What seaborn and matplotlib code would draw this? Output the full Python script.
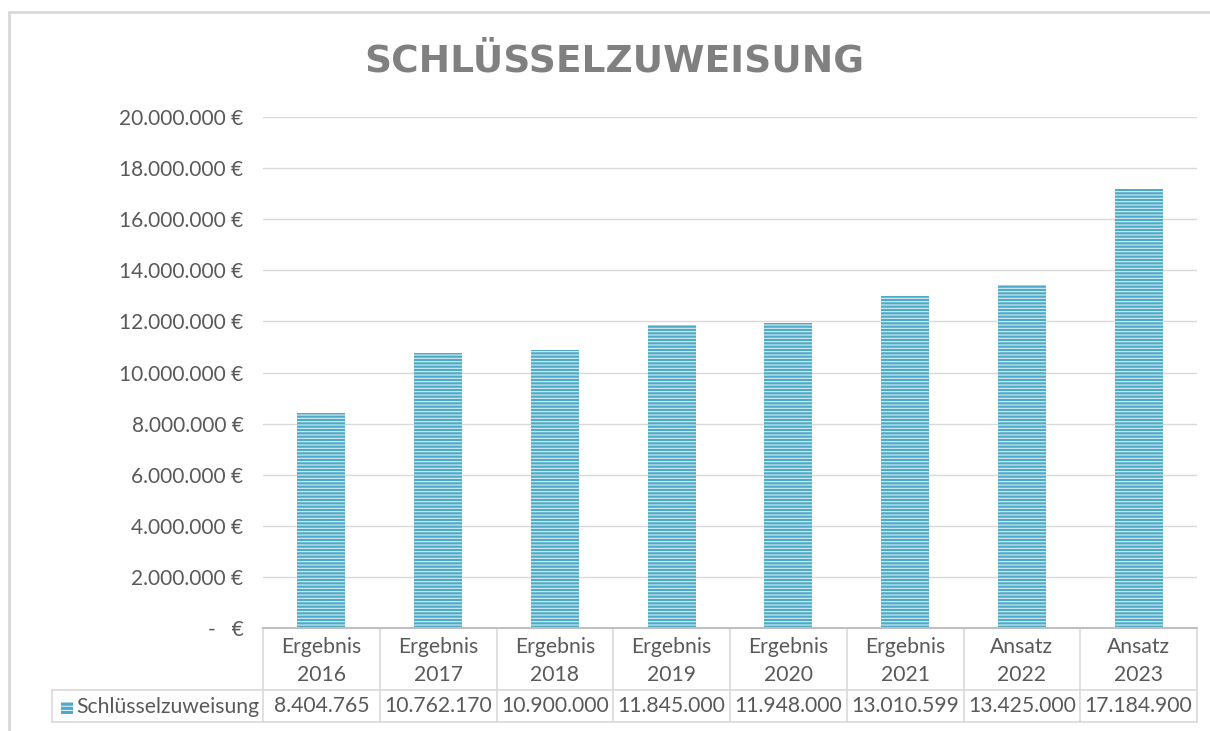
import numpy as np
import pandas as pd
import seaborn as sns
import matplotlib.pyplot as plt
from matplotlib.lines import Line2D
from matplotlib.patches import Rectangle
import matplotlib.transforms as mtransforms

categories = ['Ergebnis\n2016', 'Ergebnis\n2017', 'Ergebnis\n2018', 'Ergebnis\n2019',
              'Ergebnis\n2020', 'Ergebnis\n2021', 'Ansatz\n2022', 'Ansatz\n2023']
values = [8404765, 10762170, 10900000, 11845000, 11948000, 13010599, 13425000, 17184900]
series_name = 'Schlüsselzuweisung'
title = 'SCHLÜSSELZUWEISUNG'
yticks = list(range(0, 20000001, 2000000))

bar_color = '#4eaac6'
stripe_color = '#d8eef5'
grid_color = '#d9d9d9'
text_color = '#595959'

df = pd.DataFrame({'kategorie': categories, 'wert': values})


def euro(v):
    if v == 0:
        return '-   €'
    return f'{v:,.0f}'.replace(',', '.') + ' €'


sns.set_style('white')
plt.rcParams['font.family'] = ['Lato', 'DejaVu Sans']
plt.rcParams['hatch.linewidth'] = 0.8

fig = plt.figure(figsize=(12.1, 7.31), dpi=100)
ax = fig.add_axes([263 / 1210, 1 - 628 / 731, 934 / 1210, 511 / 731])

sns.barplot(data=df, x='kategorie', y='wert', color=bar_color, width=0.41,
            saturation=1, ax=ax)
for p in ax.patches:
    p.set_hatch('-----')
    p.set_edgecolor(stripe_color)
    p.set_linewidth(0)

ax.set_ylim(0, 20000000)
ax.set_xlim(-0.5, len(categories) - 0.5)
ax.set_yticks(yticks)
ax.set_yticklabels([euro(v) for v in yticks], fontsize=15, color=text_color)
ax.tick_params(axis='y', length=0, pad=14)
ax.set_xticks([])
ax.set_xlabel('')
ax.set_ylabel('')
ax.yaxis.grid(True, color=grid_color, linewidth=1)
ax.set_axisbelow(True)
for s in ax.spines.values():
    s.set_visible(False)

# data table below the plot
h1 = -62 / 511
h2 = -94 / 511
left = (52 - 263) / 934
tr = mtransforms.blended_transform_factory(ax.transData, ax.transAxes)
n = len(categories)
for i, (c, v) in enumerate(zip(categories, values)):
    ax.text(i, h1 / 2 - 0.004, c, transform=tr, ha='center', va='center', fontsize=15.2,
            color=text_color, linespacing=1.5)
    ax.text(i, (h1 + h2) / 2, f'{v:,.0f}'.replace(',', '.'), transform=tr,
            ha='center', va='center', fontsize=15.2, color=text_color)
for k in range(n + 1):
    ax.add_line(Line2D([k - 0.5, k - 0.5], [0, h2], transform=tr, color=grid_color,
                       linewidth=1.2, clip_on=False))
for y in (h1, h2):
    ax.add_line(Line2D([left, 1], [y, y], transform=ax.transAxes, color=grid_color,
                       linewidth=1.2, clip_on=False))
ax.add_line(Line2D([left, left], [h1, h2], transform=ax.transAxes, color=grid_color,
                   linewidth=1.2, clip_on=False))
ax.add_line(Line2D([0, 1], [0, 0], transform=ax.transAxes, color='#bfbfbf',
                   linewidth=1.5, clip_on=False))

# legend key inside the table
key = Rectangle((61 / 1210, 1 - 714 / 731), 12 / 1210, 12 / 731, transform=fig.transFigure,
                facecolor=bar_color, edgecolor=stripe_color, hatch='----', linewidth=0)
fig.patches.append(key)
fig.text(76 / 1210, 1 - 707 / 731, series_name, ha='left', va='center', fontsize=15.2,
         color=text_color)

# outer chart border
fig.add_artist(Line2D([9 / 1210, 9 / 1210], [0, 1 - 12 / 731], transform=fig.transFigure,
                      color=grid_color, linewidth=2))
fig.add_artist(Line2D([9 / 1210, 1], [1 - 12 / 731, 1 - 12 / 731], transform=fig.transFigure,
                      color=grid_color, linewidth=2))

fig.text(614 / 1210, 1 - 62 / 731, title, ha='center', va='center',
         fontsize=27, fontweight='bold', color='#808080', family='DejaVu Sans')

fig.savefig('out.png', dpi=100)
